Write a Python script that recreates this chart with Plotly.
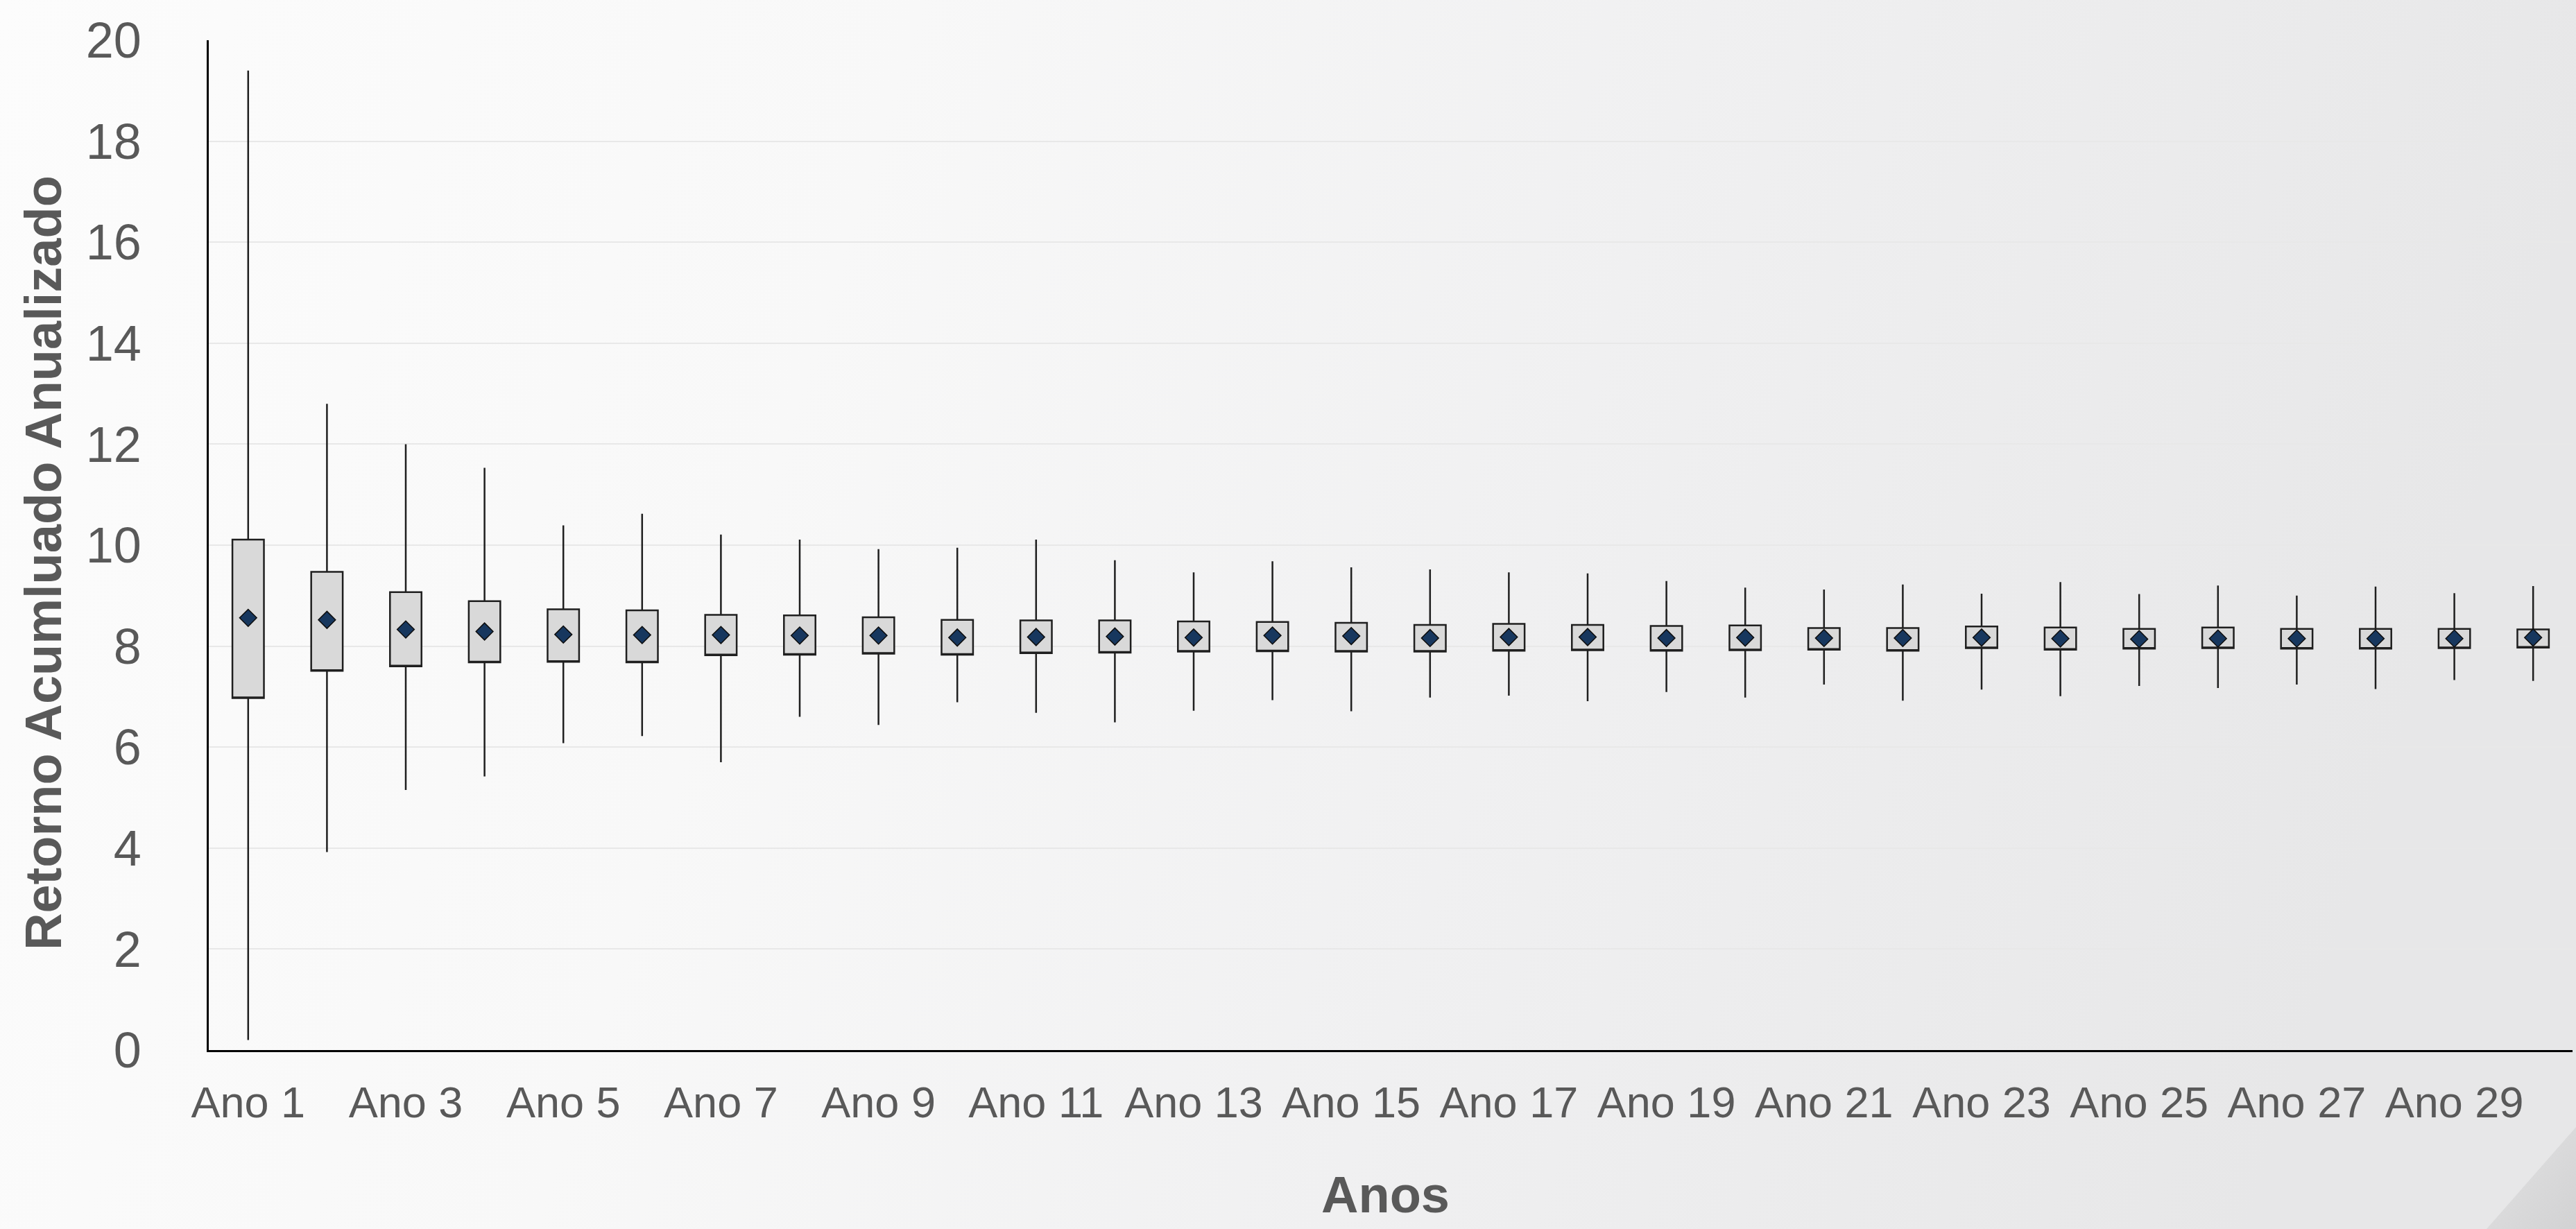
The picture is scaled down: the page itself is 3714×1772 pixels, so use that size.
import base64
import plotly.graph_objects as go

# ---- data ----
categories = ["Ano 1", "Ano 2", "Ano 3", "Ano 4", "Ano 5", "Ano 6", "Ano 7", "Ano 8", "Ano 9", "Ano 10",
              "Ano 11", "Ano 12", "Ano 13", "Ano 14", "Ano 15", "Ano 16", "Ano 17", "Ano 18", "Ano 19", "Ano 20",
              "Ano 21", "Ano 22", "Ano 23", "Ano 24", "Ano 25", "Ano 26", "Ano 27", "Ano 28", "Ano 29", "Ano 30"]

max_vals = [19.40, 12.80, 12.00, 11.53, 10.39, 10.62, 10.21, 10.11, 9.92, 9.95,
            10.11, 9.70, 9.46, 9.68, 9.56, 9.52, 9.46, 9.44, 9.29, 9.16,
            9.12, 9.22, 9.04, 9.27, 9.03, 9.20, 9.00, 9.18, 9.05, 9.19]
q3_vals = [10.11, 9.47, 9.07, 8.89, 8.73, 8.71, 8.62, 8.61, 8.57, 8.52,
           8.51, 8.51, 8.49, 8.48, 8.46, 8.42, 8.44, 8.42, 8.40, 8.41,
           8.36, 8.36, 8.39, 8.37, 8.34, 8.37, 8.34, 8.34, 8.34, 8.33]
q1_vals = [6.97, 7.51, 7.60, 7.68, 7.69, 7.68, 7.82, 7.83, 7.85, 7.83,
           7.86, 7.87, 7.89, 7.90, 7.89, 7.89, 7.91, 7.92, 7.91, 7.92,
           7.93, 7.91, 7.96, 7.93, 7.95, 7.96, 7.95, 7.95, 7.96, 7.97]
mean_vals = [8.56, 8.52, 8.33, 8.29, 8.23, 8.22, 8.22, 8.21, 8.21, 8.17,
             8.18, 8.19, 8.17, 8.21, 8.20, 8.16, 8.18, 8.18, 8.16, 8.17,
             8.16, 8.16, 8.17, 8.15, 8.14, 8.15, 8.15, 8.15, 8.15, 8.17]
min_vals = [0.20, 3.92, 5.15, 5.42, 6.08, 6.22, 5.70, 6.60, 6.44, 6.89,
            6.68, 6.49, 6.72, 6.93, 6.71, 6.98, 7.02, 6.91, 7.09, 6.98,
            7.24, 6.92, 7.14, 7.01, 7.21, 7.17, 7.24, 7.15, 7.33, 7.31]

x_tick_labels = categories[::2]
y_ticks = [0, 2, 4, 6, 8, 10, 12, 14, 16, 18, 20]

# ---- geometry ----
W, H = 3714, 1772
ML, MR, MT, MB = 301, 5, 58, 258
PW, PH = W - ML - MR, H - MT - MB

def px_x(px):
    return (px - ML) / PW

def px_y(py):
    return (H - MB - py) / PH

TXT = "#595959"
FONT = "Liberation Sans, Arial, Helvetica, sans-serif"

fig = go.Figure()

# boxes (no median line in reference -> median placed on the lower quartile edge)
fig.add_trace(go.Box(
    x=categories,
    q1=q1_vals,
    median=q1_vals,
    q3=q3_vals,
    lowerfence=min_vals,
    upperfence=max_vals,
    width=0.4,
    whiskerwidth=0,
    fillcolor="#D9D9D9",
    line=dict(color="#1F1F1F", width=2.5),
    boxpoints=False,
    showlegend=False,
    name="Retorno",
))

# mean diamonds
fig.add_trace(go.Scatter(
    x=categories,
    y=mean_vals,
    mode="markers",
    marker=dict(symbol="diamond", size=19, color="#17375E",
                line=dict(color="#0D0D0D", width=1.5)),
    showlegend=False,
    name="Média",
))

# background gradient image
svg = f'''<svg xmlns="http://www.w3.org/2000/svg" width="{W}" height="{H}" viewBox="0 0 {W} {H}" preserveAspectRatio="none">
<defs>
<linearGradient id="g" x1="0" y1="0" x2="1" y2="0.15">
<stop offset="0" stop-color="#FCFCFC"/>
<stop offset="0.35" stop-color="#F8F8F8"/>
<stop offset="0.65" stop-color="#F0F0F1"/>
<stop offset="1" stop-color="#E7E7E8"/>
</linearGradient>
<linearGradient id="t" x1="0" y1="0" x2="1" y2="1">
<stop offset="0" stop-color="#E2E2E3"/>
<stop offset="1" stop-color="#D2D2D3"/>
</linearGradient>
</defs>
<rect x="0" y="0" width="{W}" height="{H}" fill="url(#g)"/>
<polygon points="{W},1625 {W},{H} 3585,{H}" fill="url(#t)"/>
</svg>'''
src = "data:image/svg+xml;base64," + base64.b64encode(svg.encode()).decode()
fig.add_layout_image(dict(
    source=src, xref="paper", yref="paper",
    x=-ML / PW, y=1 + MT / PH, sizex=W / PW, sizey=H / PH,
    xanchor="left", yanchor="top", sizing="stretch", layer="below",
))

fig.update_layout(
    width=W, height=H,
    margin=dict(l=ML, r=MR, t=MT, b=MB, pad=0),
    paper_bgcolor="#F4F4F4",
    plot_bgcolor="rgba(0,0,0,0)",
    font=dict(family=FONT, color=TXT),
    showlegend=False,
)

fig.update_xaxes(
    type="category",
    range=[-0.5, 29.5],
    tickmode="array",
    tickvals=x_tick_labels,
    ticktext=x_tick_labels,
    tickfont=dict(size=63, color=TXT, family=FONT),
    ticks="",
    ticklabelstandoff=18,
    showline=True, linecolor="#000000", linewidth=3,
    showgrid=False, zeroline=False,
)
fig.update_yaxes(
    range=[0, 20],
    tickmode="array",
    tickvals=y_ticks,
    tickfont=dict(size=72, color=TXT, family=FONT),
    ticks="",
    ticklabelstandoff=80,
    showline=True, linecolor="#000000", linewidth=2.5,
    showgrid=True, gridcolor="#E8E8E8", gridwidth=2,
    zeroline=False,
)

fig.add_annotation(
    text="Anos", xref="paper", yref="paper",
    x=px_x(1997), y=px_y(1722), xanchor="center", yanchor="middle",
    showarrow=False,
    font=dict(size=74, color=TXT, family=FONT, weight="bold"),
)
fig.add_annotation(
    text="Retorno Acumluado Anualizado", xref="paper", yref="paper",
    x=px_x(63), y=px_y(812), xanchor="center", yanchor="middle",
    textangle=-90, showarrow=False,
    font=dict(size=74, color=TXT, family=FONT, weight="bold"),
)

fig.write_html(
    "out.html",
    config={"displayModeBar": False},
    post_script="document.body.style.margin='0';document.body.style.overflow='hidden';",
)
